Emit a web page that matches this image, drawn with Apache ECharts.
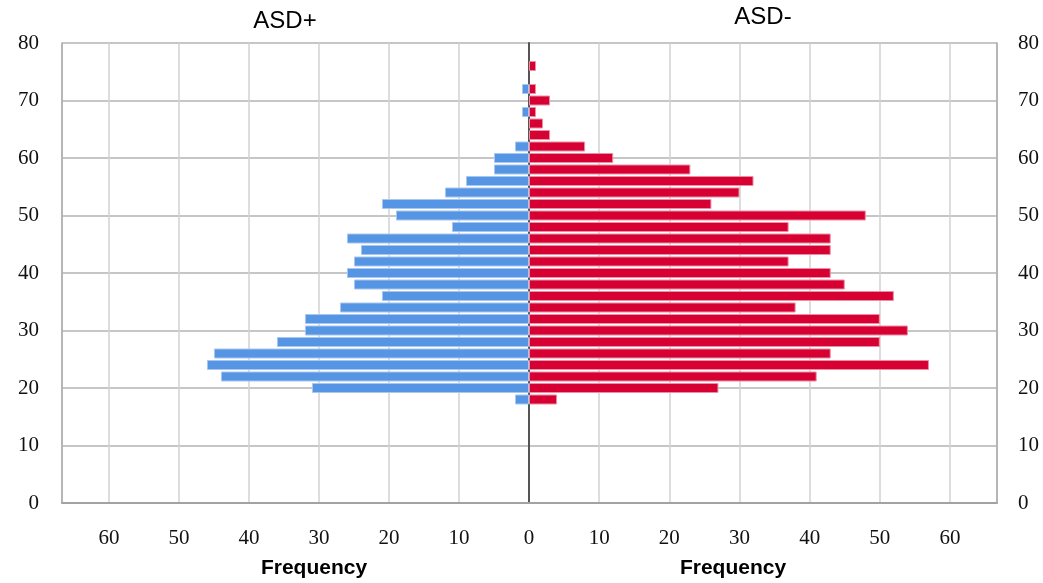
<!DOCTYPE html>
<html>
<head>
<meta charset="utf-8">
<script src="https://cdn.jsdelivr.net/npm/echarts@6/dist/echarts.min.js"></script>
<style>
  html, body { margin: 0; padding: 0; background: #fff; }
  #chart { width: 1043px; height: 583px; }
</style>
</head>
<body>
<div id="chart"></div>
<script>
// Age bins (bin centres, years) – category axis values
const ages = ['0','2','4','6','8','10','12','14','16','18','20','22','24','26','28','30','32','34','36','38','40',
              '42','44','46','48','50','52','54','56','58','60','62','64','66','68','70','72','74','76','78','80'];

// ASD+ frequencies per age bin (left side)
const asdPlus = [0,0,0,0,0,0,0,0,0,
  2,31,44,46,45,36,32,32,27,21,25,26,25,24,26,11,19,21,12,9,5,5,2,0,0,1,0,1,0,0,0,0];

// ASD- frequencies per age bin (right side)
const asdMinus = [0,0,0,0,0,0,0,0,0,
  4,27,41,57,43,50,54,50,38,52,45,43,37,43,43,37,48,26,30,32,23,12,8,3,2,1,3,1,0,1,0,0];

// Frequency axis range and tick step
const freqMax = 66.7;
const freqStep = 10;

// Text
const titleLeft = 'ASD+';
const titleRight = 'ASD-';
const axisTitle = 'Frequency';

const serif = '"Liberation Serif", "DejaVu Serif", serif';
const sans = '"Liberation Sans", Arial, sans-serif';

// empty bins are not drawn at all
const noEmpty = arr => arr.map(v => (v === 0 ? '-' : v));

const chart = echarts.init(document.getElementById('chart'), null, { renderer: 'canvas' });

const vSplit = { show: true, lineStyle: { color: '#d2d2d2', width: 1.5 } };
const hSplit = { show: true, interval: 4, lineStyle: { color: '#c6c6c6', width: 2 } };
const xLabel = { fontFamily: serif, fontSize: 21, color: '#111', margin: 25 };
const yLabel = { fontFamily: serif, fontSize: 21, color: '#111', interval: 4 };

const option = {
  backgroundColor: '#fff',
  animation: false,
  grid: [
    { left: 62, top: 43, width: 467, height: 460, containLabel: false },
    { left: 529, top: 43, width: 468, height: 460, containLabel: false }
  ],
  xAxis: [
    {
      gridIndex: 0, type: 'value', inverse: true, min: 0, max: freqMax, interval: freqStep,
      axisLine: { show: true, lineStyle: { color: '#a3a3a3', width: 2 } },
      axisTick: { show: false },
      axisLabel: Object.assign({}, xLabel, { showMaxLabel: false, formatter: v => (v % 10 === 0 ? String(v) : '') }),
      splitLine: vSplit
    },
    {
      gridIndex: 1, type: 'value', min: 0, max: freqMax, interval: freqStep,
      axisLine: { show: true, lineStyle: { color: '#a3a3a3', width: 2 } },
      axisTick: { show: false },
      axisLabel: Object.assign({}, xLabel, { showMinLabel: false, showMaxLabel: false, formatter: v => (v % 10 === 0 ? String(v) : '') }),
      splitLine: vSplit
    }
  ],
  yAxis: [
    {
      gridIndex: 0, type: 'category', data: ages, boundaryGap: false, position: 'left',
      axisLine: { show: true, onZero: false, lineStyle: { color: '#a8a8a8', width: 1.5 } },
      axisTick: { show: false },
      axisLabel: Object.assign({}, yLabel, { margin: 23 }),
      splitLine: hSplit
    },
    {
      gridIndex: 1, type: 'category', data: ages, boundaryGap: false, position: 'left',
      axisLine: { show: true, onZero: false, lineStyle: { color: '#555', width: 2 } },
      axisTick: { show: false },
      axisLabel: { show: false },
      splitLine: hSplit
    },
    {
      gridIndex: 1, type: 'category', data: ages, boundaryGap: false, position: 'right',
      axisLine: { show: true, onZero: false, lineStyle: { color: '#a8a8a8', width: 1.5 } },
      axisTick: { show: false },
      axisLabel: Object.assign({}, yLabel, { margin: 21 }),
      splitLine: { show: false }
    }
  ],
  series: [
    {
      name: titleLeft, type: 'bar', xAxisIndex: 0, yAxisIndex: 0, data: noEmpty(asdPlus),
      barWidth: 10,
      itemStyle: { color: '#5595e3', borderColor: '#a8c7f0', borderWidth: 1 }
    },
    {
      name: titleRight, type: 'bar', xAxisIndex: 1, yAxisIndex: 1, data: noEmpty(asdMinus),
      barWidth: 10,
      itemStyle: { color: '#d60033', borderColor: '#ec8ea3', borderWidth: 1 }
    }
  ],
  graphic: [
    { type: 'text', x: 285, y: 21, style: { text: titleLeft, fontFamily: sans, fontSize: 24, fill: '#000', align: 'center', verticalAlign: 'middle' } },
    { type: 'text', x: 763, y: 17, style: { text: titleRight, fontFamily: sans, fontSize: 24, fill: '#000', align: 'center', verticalAlign: 'middle' } },
    { type: 'text', x: 314, y: 568, style: { text: axisTitle, fontFamily: sans, fontSize: 21, fontWeight: 'bold', fill: '#000', align: 'center', verticalAlign: 'middle' } },
    { type: 'text', x: 733, y: 568, style: { text: axisTitle, fontFamily: sans, fontSize: 21, fontWeight: 'bold', fill: '#000', align: 'center', verticalAlign: 'middle' } }
  ]
};

chart.setOption(option);
</script>
</body>
</html>
